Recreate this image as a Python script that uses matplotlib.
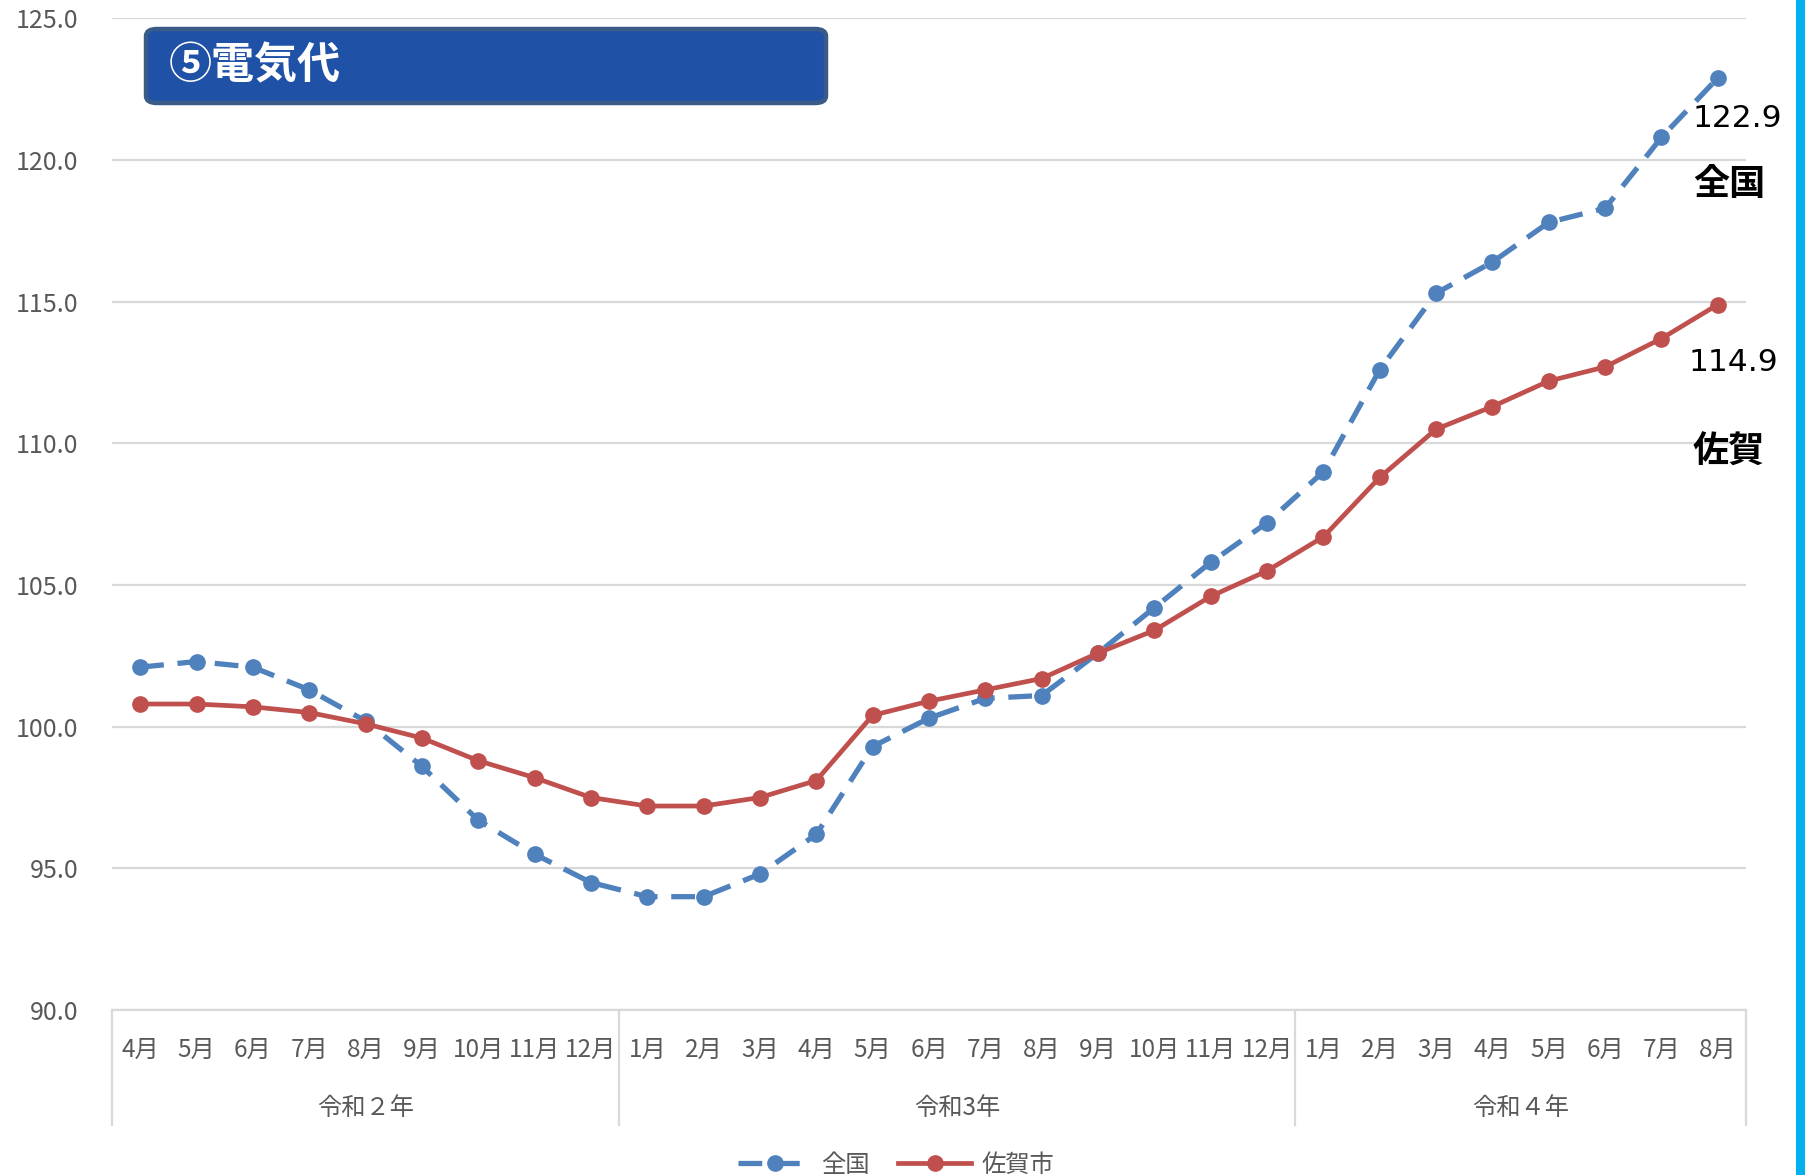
import matplotlib
matplotlib.use("Agg")
import matplotlib.pyplot as plt
from matplotlib.patches import FancyBboxPatch, Rectangle
from matplotlib.transforms import blended_transform_factory

plt.rcParams['font.family'] = ['Noto Sans CJK JP', 'DejaVu Sans']

months = ["4月", "5月", "6月", "7月", "8月", "9月", "10月", "11月", "12月",
          "1月", "2月", "3月", "4月", "5月", "6月", "7月", "8月", "9月", "10月", "11月", "12月",
          "1月", "2月", "3月", "4月", "5月", "6月", "7月", "8月"]
years = ["令和２年", "令和3年", "令和４年"]
year_counts = [9, 12, 8]

zenkoku = [102.1, 102.3, 102.1, 101.3, 100.2, 98.6, 96.7, 95.5, 94.5,
           94.0, 94.0, 94.8, 96.2, 99.3, 100.3, 101.0, 101.1, 102.6, 104.2, 105.8, 107.2,
           109.0, 112.6, 115.3, 116.4, 117.8, 118.3, 120.8, 122.9]
saga = [100.8, 100.8, 100.7, 100.5, 100.1, 99.6, 98.8, 98.2, 97.5,
        97.2, 97.2, 97.5, 98.1, 100.4, 100.9, 101.3, 101.7, 102.6, 103.4, 104.6, 105.5,
        106.7, 108.8, 110.5, 111.3, 112.2, 112.7, 113.7, 114.9]

yticks = [90, 95, 100, 105, 110, 115, 120, 125]

W, H = 1806, 1175
fig = plt.figure(figsize=(W / 100, H / 100), dpi=100)
ax = fig.add_axes([112 / W, 1 - 1010 / H, (1746 - 112) / W, (1010 - 18.4) / H])

x = list(range(len(months)))
blue = "#4F81BD"
red = "#C0504D"
grid = "#D9D9D9"

ax.plot(x, zenkoku, color=blue, lw=3.8, dashes=(4.5, 2.6), marker='o', markersize=11,
        label="全国", zorder=3)
ax.plot(x, saga, color=red, lw=3.4, marker='o', markersize=11, label="佐賀市", zorder=4)

ax.set_xlim(-0.5, len(months) - 0.5)
ax.set_ylim(90, 125)
ax.set_yticks(yticks)
ax.set_yticklabels([f"{v:.1f}" for v in yticks], color="#595959", fontsize=18)
ax.yaxis.grid(True, color=grid, lw=1.6)
ax.set_axisbelow(True)
for s in ["left", "right", "top"]:
    ax.spines[s].set_visible(False)
ax.spines["bottom"].set_color(grid)
ax.spines["bottom"].set_linewidth(1.6)
ax.tick_params(axis='y', length=0, pad=24)
ax.set_xticks(x)
ax.set_xticklabels(months, color="#595959", fontsize=17.5)
ax.tick_params(axis='x', length=0, pad=19)

# group separators and year labels
trans = blended_transform_factory(ax.transData, ax.transAxes)
bounds = [-0.5]
for c in year_counts:
    bounds.append(bounds[-1] + c)
for b in bounds:
    ax.plot([b, b], [0, -0.116], transform=trans, color=grid, lw=1.6, clip_on=False)
for i, yl in enumerate(years):
    cx = (bounds[i] + bounds[i + 1]) / 2
    ax.text(cx, -0.099, yl, transform=trans, ha='center', va='center',
            color="#595959", fontsize=17.5)

# end labels
ax.annotate(f"{zenkoku[-1]:.1f}", (x[-1], zenkoku[-1]), xytext=(14, -29),
            textcoords='offset points', ha='center', va='center', fontsize=22.5,
            family=['DejaVu Sans'], color='black', annotation_clip=False)
ax.annotate("全国", (x[-1], zenkoku[-1]), xytext=(8, -77),
            textcoords='offset points', ha='center', va='center', fontsize=26,
            fontweight='bold', color='black', annotation_clip=False)
ax.annotate(f"{saga[-1]:.1f}", (x[-1], saga[-1]), xytext=(11, -41.5),
            textcoords='offset points', ha='center', va='center', fontsize=22.5,
            family=['DejaVu Sans'], color='black', annotation_clip=False)
ax.annotate("佐賀", (x[-1], saga[-1]), xytext=(8, -106),
            textcoords='offset points', ha='center', va='center', fontsize=26,
            fontweight='bold', color='black', annotation_clip=False)

# title box
box = FancyBboxPatch((146 / W, 1 - 103 / H), (826 - 146) / W, (103 - 29) / H,
                     boxstyle="round,pad=0.0,rounding_size=0.006",
                     transform=fig.transFigure, facecolor="#1F51A6",
                     edgecolor="#3A5A88", lw=3.2)
fig.patches.append(box)
fig.text(169 / W, 1 - 65 / H, "⑤電気代", color='white', fontsize=31, fontweight='bold',
         ha='left', va='center')

# right edge bar
fig.patches.append(Rectangle((1796 / W, 0), 10 / W, 1, transform=fig.transFigure,
                             facecolor="#00B0F0", edgecolor='none'))

fig.legend(loc='center', bbox_to_anchor=(896 / W, 10 / H), ncol=2, frameon=False,
           fontsize=17.5, handlelength=3.0, columnspacing=1.2, handletextpad=0.4,
           labelcolor="#595959")

fig.savefig("out.png", dpi=100)
